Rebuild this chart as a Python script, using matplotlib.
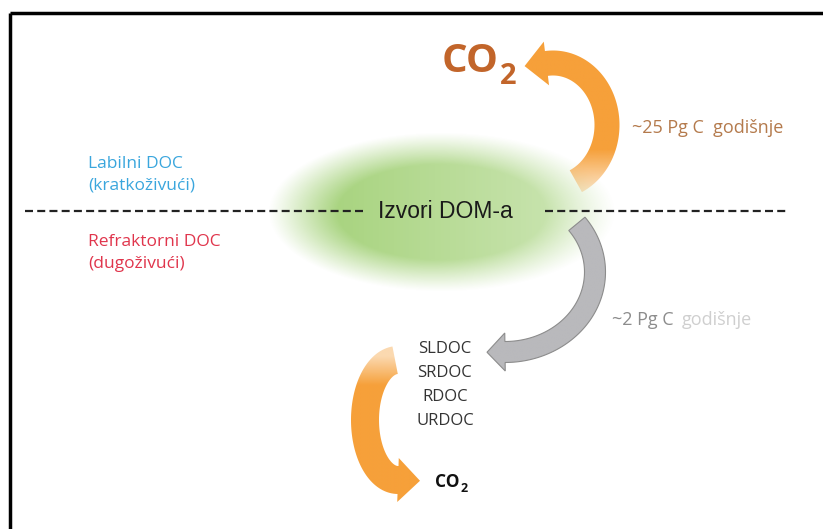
import numpy as np
import matplotlib.pyplot as plt
from matplotlib.colors import to_rgb
from matplotlib.patches import Polygon

plt.rcParams['font.family'] = ['Open Sans', 'DejaVu Sans']

# diagram content
source_label = 'Izvori DOM-a'
labile_label = ['Labilni DOC', '(kratkoživući)']
refractory_label = ['Refraktorni DOC', '(dugoživući)']
pools = ['SLDOC', 'SRDOC', 'RDOC', 'URDOC']
flux_labile = '~25 Pg C'
flux_refractory = '~2 Pg C'
per_year = 'godišnje'

W, H = 823, 529
fig = plt.figure(figsize=(W / 100, H / 100), dpi=100)
ax = fig.add_axes([0, 0, 1, 1])
ax.set_xlim(0, W)
ax.set_ylim(H, 0)
ax.axis('off')

# frame: top and left only
ax.plot([10, W], [13, 13], color='black', lw=2.5, solid_capstyle='butt')
ax.plot([10, 10], [13, H], color='black', lw=2.5, solid_capstyle='butt')

# soft green ellipse
x0, x1, y0, y1 = 250, 640, 120, 305
xx, yy = np.meshgrid(np.linspace(x0, x1, 400), np.linspace(y0, y1, 200))
r = np.sqrt(((xx - 442) / 174) ** 2 + ((yy - 212) / 80) ** 2)
alpha = np.clip((1.0 - r) / 0.4, 0, 1)
alpha = alpha ** 1.1 * np.clip(1.0 - 0.5 * (xx - 300) / 320, 0.35, 1)
img = np.zeros(xx.shape + (4,))
img[..., 0] = 0.58
img[..., 1] = 0.79
img[..., 2] = 0.38
img[..., 3] = np.clip(alpha, 0, 1) * 0.85
ax.imshow(img, extent=[x0, x1, y1, y0], zorder=1, interpolation='bilinear')

# dashed divider
ax.plot([25, 365], [211, 211], color='#222222', lw=1.6, dashes=(3.6, 1.9), zorder=2)
ax.plot([545, 786], [211, 211], color='#222222', lw=1.6, dashes=(3.6, 1.9), zorder=2)
ax.text(445, 211, source_label, fontsize=16.5, color='#1a1a1a',
        family='Liberation Sans', ha='center', va='center', zorder=5)

ax.text(88, 175, '\n'.join(labile_label), fontsize=12.5, color='#3aa6dd',
        ha='left', va='center', linespacing=1.45, zorder=5)
ax.text(88, 253, '\n'.join(refractory_label), fontsize=12.5, color='#e0354c',
        ha='left', va='center', linespacing=1.45, zorder=5)


def arc_arrow(c, rx, ry, t0, t1, w, hw, hl, color, edge, fade=None):
    # thick elliptical arc from angle t0 to t1 (degrees, y pointing down) with a head
    t = np.radians(np.linspace(t0, t1, 80))
    cx, cy = c
    px, py = cx + rx * np.cos(t), cy + ry * np.sin(t)
    dx, dy = np.gradient(px), np.gradient(py)
    n = np.hypot(dx, dy)
    nx, ny = -dy / n, dx / n
    left = np.column_stack([px + nx * w / 2, py + ny * w / 2])
    right = np.column_stack([px - nx * w / 2, py - ny * w / 2])
    ux, uy = dx[-1] / n[-1], dy[-1] / n[-1]
    bx, by = px[-1], py[-1]
    head = [(bx + nx[-1] * hw / 2, by + ny[-1] * hw / 2),
            (bx + ux * hl, by + uy * hl),
            (bx - nx[-1] * hw / 2, by - ny[-1] * hw / 2)]
    pts = np.vstack([left, head, right[::-1]])
    poly = Polygon(pts, closed=True, facecolor='none', edgecolor=edge, lw=0.8, zorder=4)
    ax.add_patch(poly)
    # fill with a colour that fades towards the tail
    ex0, ex1 = pts[:, 0].min() - 2, pts[:, 0].max() + 2
    ey0, ey1 = pts[:, 1].min() - 2, pts[:, 1].max() + 2
    gx, gy = np.meshgrid(np.linspace(ex0, ex1, 120), np.linspace(ey0, ey1, 120))
    a = np.ones_like(gx)
    if fade is not None:
        fy0, fy1, amin = fade
        a = np.clip(amin + (1 - amin) * (gy - fy1) / (fy0 - fy1), amin, 1)
        poly.set_edgecolor('none')
    rgba = np.zeros(gx.shape + (4,))
    rgba[..., :3] = to_rgb(color)
    rgba[..., 3] = a
    im = ax.imshow(rgba, extent=[ex0, ex1, ey1, ey0], zorder=3.9, interpolation='bilinear')
    im.set_clip_path(poly)
    return poly


# labile flux up to CO2
arc_arrow((553, 125), 54, 62, 65, -97, 25, 44, 22, '#f6a03a', '#e08a2a',
          fade=(150, 190, 0.3))
# refractory flux down to the RDOC pools
arc_arrow((505, 272), 90, 80, -37, 90, 21, 38, 18, '#b9b9bc', '#8c8c8c')
# slow remineralisation to CO2
arc_arrow((398, 420), 33, 60, -95, -270, 28, 44, 22, '#f6a03a', '#e08a2a',
          fade=(385, 356, 0.4))


def co2(x, y, size, color):
    t = ax.text(x, y, 'CO', fontsize=size, fontweight='bold',
                color=color, ha='left', va='center', zorder=5)
    ax.annotate('2', xy=(1, 0.12), xycoords=t, xytext=(1, 0),
                textcoords='offset points', fontsize=size * 0.72,
                fontweight='bold', color=color, ha='left', va='center', zorder=5)


co2(442, 62, 29, '#c2652a')
co2(435, 482, 12.5, '#111111')

# flux labels
ax.text(632, 128, flux_labile + '  ' + per_year, fontsize=13,
        color='#b47a4c', ha='left', va='center', zorder=5)
ax.text(612, 320, flux_refractory, fontsize=13, color='#8c8c8c',
        ha='left', va='center', zorder=5)
ax.text(682, 320, per_year, fontsize=13, color='#cfcfcf',
        ha='left', va='center', zorder=5)

for i, name in enumerate(pools):
    ax.text(445, 349 + i * 24, name, fontsize=12, color='#333333',
            ha='center', va='center', zorder=5)

fig.savefig('out.png', dpi=100)
